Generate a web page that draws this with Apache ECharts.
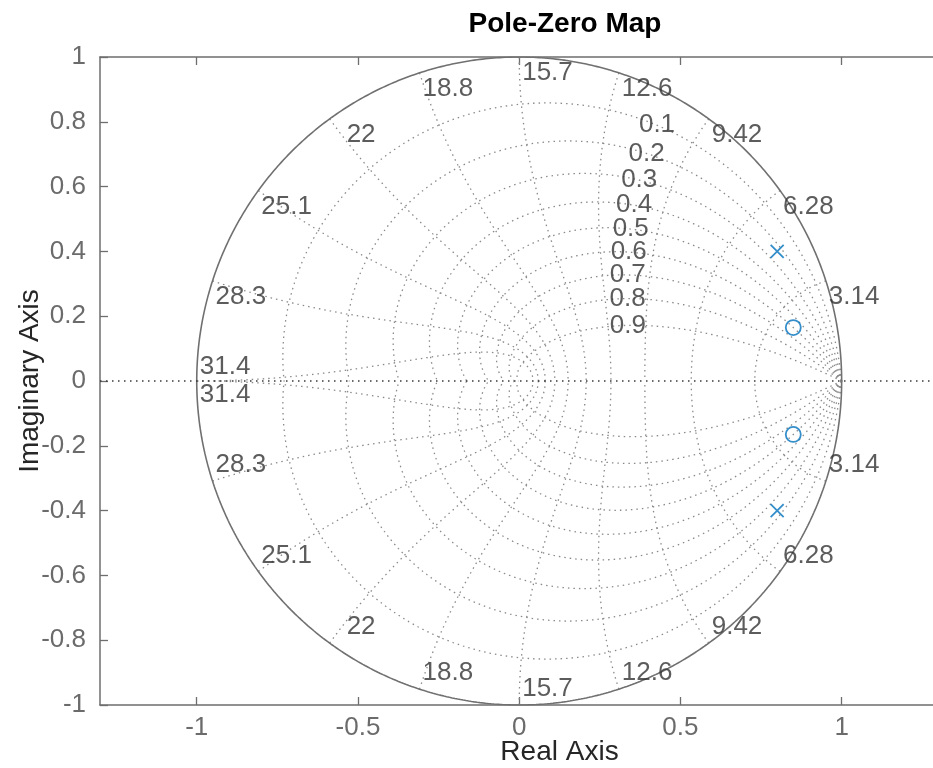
<!DOCTYPE html>
<html>
<head>
<meta charset="utf-8">
<script src="https://cdn.jsdelivr.net/npm/echarts@6/dist/echarts.min.js"></script>
<style>html,body{margin:0;padding:0;background:#fff;}#chart{width:933px;height:768px;}</style>
</head>
<body>
<div id="chart"></div>
<script>
// ---- data ----
const zetaValues = [0.1, 0.2, 0.3, 0.4, 0.5, 0.6, 0.7, 0.8, 0.9];
const zetaLabels = ['0.1', '0.2', '0.3', '0.4', '0.5', '0.6', '0.7', '0.8', '0.9'];
const wnFractions = [0.1, 0.2, 0.3, 0.4, 0.5, 0.6, 0.7, 0.8, 0.9, 1.0]; // wn*T/pi
const wnLabels = ['3.14', '6.28', '9.42', '12.6', '15.7', '18.8', '22', '25.1', '28.3', '31.4'];
const poleRe = [0.8, 0.8];
const poleIm = [0.4, -0.4];
const zeroRe = [0.85, 0.85];
const zeroIm = [0.165, -0.165];
const xTickValues = [-1, -0.5, 0, 0.5, 1];
const xMin = -1.3, xMax = 1.55;

// ---- build ----
const FONT = "'Liberation Sans', Arial, Helvetica, sans-serif";
const GRIDCOL = '#8a8a8a';
const dotted = { color: GRIDCOL, width: 1.3, type: [1.5, 4] };
const N = 240;
const series = [];

// constant damping curves
zetaValues.forEach(z => {
  const w = Math.sqrt(1 - z * z);
  const tMax = Math.PI / w;
  [1, -1].forEach(sg => {
    const pts = [];
    for (let i = 0; i <= N; i++) {
      const t = tMax * i / N;
      const r = Math.exp(-z * t);
      pts.push([r * Math.cos(w * t), sg * r * Math.sin(w * t)]);
    }
    series.push({ type: 'line', data: pts, showSymbol: false, silent: true, lineStyle: dotted, z: 1 });
  });
});
// constant natural frequency curves
wnFractions.forEach(f => {
  const th = f * Math.PI;
  [1, -1].forEach(sg => {
    const pts = [];
    for (let i = 0; i <= N; i++) {
      const z = i / N;
      const r = Math.exp(-th * z);
      const a = th * Math.sqrt(1 - z * z);
      pts.push([r * Math.cos(a), sg * r * Math.sin(a)]);
    }
    series.push({ type: 'line', data: pts, showSymbol: false, silent: true, lineStyle: dotted, z: 1 });
  });
});
// unit circle
const circ = [];
for (let i = 0; i <= 720; i++) {
  const a = 2 * Math.PI * i / 720;
  circ.push([Math.cos(a), Math.sin(a)]);
}
series.push({ type: 'line', data: circ, showSymbol: false, silent: true, lineStyle: { color: '#707070', width: 1.6 }, z: 2 });
// real axis dotted line
series.push({ type: 'line', data: [[xMin, 0], [xMax, 0]], showSymbol: false, silent: true,
  lineStyle: { color: '#3a3a3a', width: 1.3, type: [1.5, 4.5] }, z: 2 });

// wn labels
const wnLabelData = [];
wnFractions.forEach((f, i) => {
  const th = f * Math.PI;
  const dx = wnLabels[i] === '22' ? 17 : 3;
  [1, -1].forEach(sg => {
    let dy = 16;
    if (f === 1.0) dy = -14;
    wnLabelData.push({
      value: [Math.cos(th), sg * Math.sin(th)],
      label: { formatter: wnLabels[i], offset: [dx, sg * dy] }
    });
  });
});
series.push({ type: 'scatter', data: wnLabelData, symbolSize: 1, itemStyle: { color: 'rgba(0,0,0,0)' }, silent: true, z: 5,
  label: { show: true, position: 'inside', align: 'left', verticalAlign: 'middle', color: '#333333', fontSize: 26, fontFamily: FONT } });

// zeta labels
const tLab = 1.08;
const zetaLabelData = zetaValues.map((z, i) => {
  const w = Math.sqrt(1 - z * z);
  const r = Math.exp(-z * tLab);
  return { value: [r * Math.cos(w * tLab), r * Math.sin(w * tLab)], label: { formatter: zetaLabels[i] } };
});
series.push({ type: 'scatter', data: zetaLabelData, symbolSize: 1, itemStyle: { color: 'rgba(0,0,0,0)' }, silent: true, z: 5,
  label: { show: true, position: 'inside', align: 'center', verticalAlign: 'middle', color: '#333333', fontSize: 26, fontFamily: FONT } });

// poles & zeros
const BLUE = '#0072BD';
series.push({ type: 'scatter', name: 'poles', data: poleRe.map((x, i) => [x, poleIm[i]]),
  symbol: 'path://M0,0L10,10M10,0L0,10', symbolSize: 13,
  itemStyle: { color: 'none', borderColor: BLUE, borderWidth: 1.8 }, z: 10 });
series.push({ type: 'scatter', name: 'zeros', data: zeroRe.map((x, i) => [x, zeroIm[i]]),
  symbol: 'circle', symbolSize: 15,
  itemStyle: { color: 'rgba(255,255,255,0)', borderColor: BLUE, borderWidth: 1.8 }, z: 10 });

const axisCol = '#6e6e6e';
const option = {
  animation: false,
  backgroundColor: '#fff',
  title: { text: 'Pole-Zero Map', left: 560, top: 5, textAlign: 'center',
    textStyle: { fontFamily: FONT, fontWeight: 'bold', fontSize: 28, color: '#000' } },
  grid: { left: 100, top: 57, width: 919, height: 648, containLabel: false, outerBoundsMode: 'none' },
  xAxis: [{
    type: 'value', min: xMin, max: xMax, position: 'bottom',
    name: 'Real Axis', nameLocation: 'middle', nameGap: 33, nameMoveOverlap: false,
    nameTextStyle: { fontFamily: FONT, fontSize: 28, color: '#262626' },
    axisLine: { show: true, onZero: false, lineStyle: { color: axisCol, width: 1.5 } },
    axisTick: { show: true, inside: true, length: 8, customValues: xTickValues, lineStyle: { color: axisCol, width: 1.3 } },
    axisLabel: { customValues: xTickValues, margin: 10, fontFamily: FONT, fontSize: 26, color: '#6b6b6b',
      formatter: v => String(v) },
    splitLine: { show: false }
  }, {
    type: 'value', min: xMin, max: xMax, position: 'top',
    axisLine: { show: true, onZero: false, lineStyle: { color: axisCol, width: 1.5 } },
    axisTick: { show: true, inside: true, length: 8, customValues: xTickValues, lineStyle: { color: axisCol, width: 1.3 } },
    axisLabel: { show: false }, splitLine: { show: false }
  }],
  yAxis: [{
    type: 'value', min: -1, max: 1, interval: 0.2, position: 'left',
    name: 'Imaginary Axis', nameLocation: 'middle', nameGap: 56, nameMoveOverlap: false,
    nameTextStyle: { fontFamily: FONT, fontSize: 28, color: '#262626' },
    axisLine: { show: true, onZero: false, lineStyle: { color: axisCol, width: 1.5 } },
    axisTick: { show: true, inside: true, length: 8, lineStyle: { color: axisCol, width: 1.3 } },
    axisLabel: { margin: 14, fontFamily: FONT, fontSize: 26, color: '#6b6b6b',
      formatter: v => String(Math.round(v * 10) / 10) },
    splitLine: { show: false }
  }, {
    type: 'value', min: -1, max: 1, interval: 0.2, position: 'right',
    axisLine: { show: true, onZero: false, lineStyle: { color: axisCol, width: 1.5 } },
    axisTick: { show: true, inside: true, length: 8 }, axisLabel: { show: false }, splitLine: { show: false }
  }],
  series: series
};
const chart = echarts.init(document.getElementById('chart'), null, { renderer: 'canvas' });
chart.setOption(option);
</script>
</body>
</html>
